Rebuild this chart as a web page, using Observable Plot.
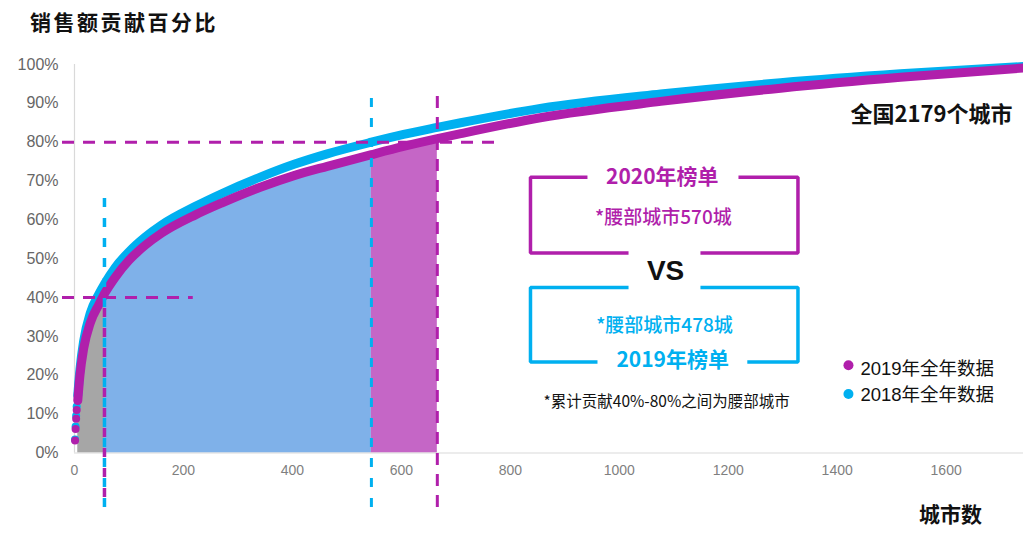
<!DOCTYPE html>
<html><head><meta charset="utf-8">
<script src="https://cdn.jsdelivr.net/npm/d3@7"></script>
<script src="https://cdn.jsdelivr.net/npm/@observablehq/plot@0.6"></script>
<style>
body{margin:0;background:#fff;font-family:"Liberation Sans","Noto Sans CJK SC",sans-serif;}
#title{height:45px;box-sizing:border-box;padding:7px 0 0 30px;font-family:"Noto Sans CJK SC",sans-serif;font-size:21px;font-weight:bold;letter-spacing:2.5px;color:#111;line-height:28px}
#chart svg{display:block}
</style></head><body>
<div id="title">销售额贡献百分比</div>
<div id="chart"></div>
<script>
// ---- data ----
const cityRank  = [1,2,3,4,6,10,17,29,45,55,75,100,130,160,222,271,341,403,464,545,604,666,709,855,1076,1296,1516,1742];
const share2019 = [3.2,6.2,8.8,11.1,13.5,20.0,27.0,33.5,38.3,41.0,45.3,49.6,53.5,56.6,61.3,64.4,68.4,71.4,73.8,76.8,78.9,80.9,82.2,86.3,90.5,93.9,96.7,99.1];
const share2018 = [3.5,6.8,9.6,12.0,14.8,21.5,29.0,36.0,41.0,43.5,47.8,51.8,55.6,58.7,63.5,66.8,71.0,74.3,77.0,80.0,82.0,83.8,85.0,88.7,92.4,95.3,97.6,99.5];
const xTicks = [0,200,400,600,800,1000,1200,1400,1600];
const yTicks = [0,10,20,30,40,50,60,70,80,90,100];
const waistStart = 55;      // 40% threshold
const waistEnd2018 = 545;   // 80% threshold, 2018 data
const waistEnd2019 = 666;   // 80% threshold, 2019 data
const waistLow = 40, waistHigh = 80;
const totalCities = 2179, waist2019 = 570, waist2018 = 478;
const seriesNames = ["2019年全年数据","2018年全年数据"];

// ---- styling / layout ----
const MAG = "#b01fab", BLUE = "#00b0f0";
const rows = cityRank.map((c,i)=>({city:c, s2019:share2019[i], s2018:share2018[i]}));

const boxSegs = [
  {g:"m1",pts:[[941.6,71],[837,71],[837,51.5],[1017,51.5]],c:MAG},
  {g:"m2",pts:[[1218.8,71],[1328,71],[1328,51.5],[1149,51.5]],c:MAG},
  {g:"b1",pts:[[1017,42.6],[837,42.6],[837,23.4],[960,23.4]],c:BLUE},
  {g:"b2",pts:[[1149,42.6],[1328,42.6],[1328,23.4],[1235,23.4]],c:BLUE}
].flatMap(s=>s.pts.map(p=>({g:s.g,x:p[0],y:p[1],c:s.c})));

const CJK = '"Noto Sans CJK SC",sans-serif';
const LAT = '"Liberation Sans","Noto Sans CJK SC",sans-serif';
const notes = [
  {x:1573,y:86.9,t:`全国${totalCities}个城市`,fs:22,fw:"bold",c:"#111",a:"middle",f:CJK},
  {x:1079,y:70.9,t:"2020年榜单",fs:21,fw:"bold",c:MAG,a:"middle",f:CJK},
  {x:1081,y:60.6,t:`*腰部城市${waist2019}城`,fs:19,fw:"500",c:MAG,a:"middle",f:CJK},
  {x:1085,y:46.9,t:"VS",fs:28,fw:"bold",c:"#111",a:"middle",f:LAT},
  {x:1083,y:32.6,t:`*腰部城市${waist2018}城`,fs:19,fw:"500",c:BLUE,a:"middle",f:CJK},
  {x:1098,y:23.8,t:"2019年榜单",fs:21,fw:"bold",c:BLUE,a:"middle",f:CJK},
  {x:1087,y:13.0,t:`*累计贡献${waistLow}%-${waistHigh}%之间为腰部城市`,fs:15.5,fw:"normal",c:"#111",a:"middle",f:CJK},
  {x:1442.7,y:21.5,t:seriesNames[0],fs:18.5,fw:"normal",c:"#111",a:"start",f:LAT},
  {x:1442.7,y:15.0,t:seriesNames[1],fs:18.5,fw:"normal",c:"#111",a:"start",f:LAT},
  {x:1608,y:-16.1,t:"城市数",fs:21,fw:"bold",c:"#111",a:"middle",f:CJK}
];
const legendDots = [{x:1420.7,y:22.6,c:MAG},{x:1420.7,y:15.2,c:BLUE}];

const textMarks = notes.map(n=>Plot.text([n],{x:"x",y:"y",text:"t",fill:n.c,fontSize:n.fs,fontWeight:n.fw,textAnchor:n.a,fontFamily:n.f}));

const plot = Plot.plot({
  width:1023, height:490,
  marginLeft:74, marginRight:0, marginTop:19, marginBottom:82.5,
  style:{fontFamily:LAT,background:"#fff",overflow:"visible"},
  x:{domain:[0,1742]},
  y:{domain:[0,100]},
  marks:[
    Plot.areaY(rows.filter(d=>d.city>=6&&d.city<=waistStart),{x:"city",y:"s2019",fill:"#a6a6a6",curve:"monotone-x"}),
    Plot.areaY(rows.filter(d=>d.city>=waistStart&&d.city<=waistEnd2018),{x:"city",y:"s2019",fill:"#7fb1e9",curve:"monotone-x"}),
    Plot.areaY(rows.filter(d=>d.city>=waistEnd2018&&d.city<=waistEnd2019),{x:"city",y:"s2019",fill:"#c566c6",curve:"monotone-x"}),
    Plot.ruleY([0],{stroke:"#d9d9d9",strokeWidth:1.2}),
    Plot.ruleX([0],{y1:0,y2:100,stroke:"#d9d9d9",strokeWidth:1.2}),
    Plot.line(rows.filter(d=>d.city>=6),{x:"city",y:"s2018",stroke:BLUE,strokeWidth:9,curve:"monotone-x",strokeLinecap:"round"}),
    Plot.dot(rows.filter(d=>d.city<=4),{x:"city",y:"s2018",r:4,fill:BLUE}),
    Plot.line(rows.filter(d=>d.city>=6),{x:"city",y:"s2019",stroke:MAG,strokeWidth:9,curve:"monotone-x",strokeLinecap:"round"}),
    Plot.dot(rows.filter(d=>d.city<=4),{x:"city",y:"s2019",r:4,fill:MAG}),
    // threshold dashed lines
    Plot.ruleY([waistHigh],{x1:-22,x2:776,stroke:MAG,strokeWidth:3,strokeDasharray:"12,9"}),
    Plot.ruleY([waistLow],{x1:-22,x2:218,stroke:MAG,strokeWidth:3,strokeDasharray:"12,9"}),
    Plot.ruleX([waistStart],{y1:-14,y2:66,stroke:BLUE,strokeWidth:3.5,strokeDasharray:"9,11"}),
    Plot.ruleX([waistStart],{y1:-14,y2:43.6,stroke:MAG,strokeWidth:3.5,strokeDasharray:"9,11",strokeDashoffset:10}),
    Plot.ruleX([waistEnd2018],{y1:-14,y2:92.8,stroke:BLUE,strokeWidth:3,strokeDasharray:"9,11"}),
    Plot.ruleX([waistEnd2019],{y1:-14,y2:93.6,stroke:MAG,strokeWidth:3,strokeDasharray:"12,9"}),
    // boxes
    Plot.line(boxSegs,{x:"x",y:"y",z:"g",stroke:"c",strokeWidth:3.5,strokeLinejoin:"miter",strokeLinecap:"butt"}),
    Plot.dot(legendDots,{x:"x",y:"y",fill:"c",r:5}),
    ...textMarks,
    Plot.axisX({ticks:xTicks,tickFormat:d=>String(d),tickSize:0,tickPadding:12,fontSize:14,fill:"#7f7f7f",label:null}),
    Plot.axisY({ticks:yTicks,tickFormat:d=>d+"%",tickSize:0,tickPadding:16,fontSize:16,fill:"#666",label:null})
  ]
});
document.getElementById("chart").appendChild(plot);
</script>
</body></html>
